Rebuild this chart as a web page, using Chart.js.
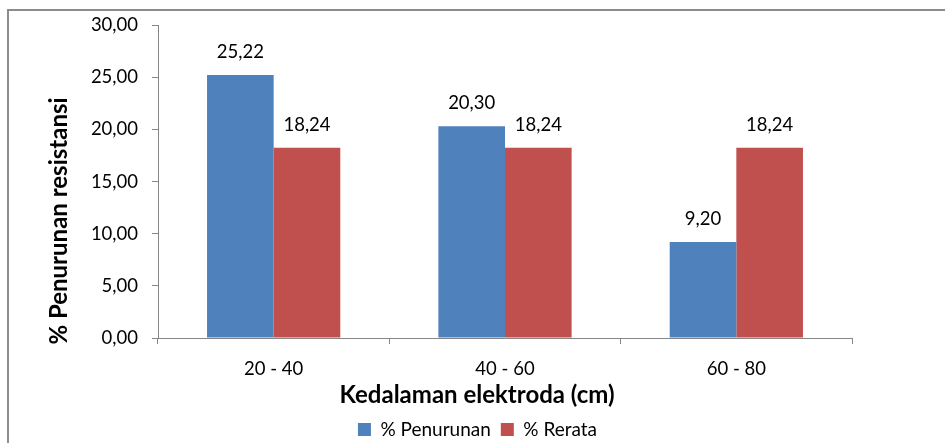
<!DOCTYPE html>
<html>
<head>
<meta charset="utf-8">
<script src="https://cdn.jsdelivr.net/npm/chart.js@4"></script>
<style>
  html, body { margin: 0; padding: 0; background: #fff; }
  #wrap { position: relative; width: 945px; height: 443px; overflow: hidden; }
  #frame { position: absolute; left: 7px; top: 9px; width: 2000px; height: 2000px;
           border-left: 2px solid #8c8c8c; border-top: 2px solid #8c8c8c; }
  canvas { position: absolute; left: 0; top: 0; }
</style>
</head>
<body>
<div id="wrap">
  <div id="frame"></div>
  <canvas id="myChart" width="945" height="443"></canvas>
</div>
<script>
var categories = ['20 - 40', '40 - 60', '60 - 80'];
var penurunan = [25.22, 20.30, 9.20];
var rerata = [18.24, 18.24, 18.24];
var yTicks = [0, 5, 10, 15, 20, 25, 30];

var FONT = 'Lato, "Open Sans", sans-serif';
var AXIS = '#868686';

function koma(v) {
  return v.toFixed(2).replace('.', ',');
}

// labels above bars + the two axis titles
var extras = {
  id: 'extras',
  afterDatasetsDraw: function(chart) {
    var ctx = chart.ctx;
    ctx.save();
    ctx.fillStyle = '#000';
    ctx.font = '18.5px ' + FONT;
    ctx.textAlign = 'center';
    ctx.textBaseline = 'alphabetic';
    chart.data.datasets.forEach(function(ds, i) {
      chart.getDatasetMeta(i).data.forEach(function(bar, j) {
        ctx.fillText(koma(ds.data[j]), bar.x, bar.y - 17);
      });
    });
    ctx.font = 'bold 24px ' + FONT;
    ctx.fillText('Kedalaman elektroda (cm)', 477, 403);
    ctx.translate(67, 221);
    ctx.rotate(-Math.PI / 2);
    ctx.fillText('% Penurunan resistansi', 0, 0);
    ctx.restore();
  }
};

const config = {
  type: 'bar',
  data: {
    labels: categories,
    datasets: [{
      label: '% Penurunan',
      data: penurunan,
      backgroundColor: '#4F81BD',
      borderWidth: 0
    }, {
      label: '% Rerata',
      data: rerata,
      backgroundColor: '#C0504D',
      borderWidth: 0
    }]
  },
  options: {
    responsive: false,
    animation: false,
    layout: { padding: { left: 10, right: 0, top: 22, bottom: -6 } },
    datasets: { bar: { categoryPercentage: 0.576, barPercentage: 1.0 } },
    scales: {
      x: {
        grid: { display: true, drawOnChartArea: false, drawTicks: true, tickLength: 6, color: AXIS, offset: true },
        border: { display: true, color: AXIS, width: 1 },
        ticks: { color: '#000', font: { family: FONT, size: 18.5 }, padding: 14 },
        afterFit: function(s) { s.height = 72; }
      },
      y: {
        min: 0, max: 30,
        afterBuildTicks: function(s) { s.ticks = yTicks.map(function(v) { return { value: v }; }); },
        grid: { display: true, drawOnChartArea: false, drawTicks: true, tickLength: 6, color: AXIS },
        border: { display: true, color: AXIS, width: 1 },
        ticks: { color: '#000', font: { family: FONT, size: 18.5 }, padding: 14,
                 callback: function(v) { return koma(v); } },
        afterFit: function(s) { s.width = 148; }
      },
      yR: {
        position: 'right',
        display: true,
        grid: { display: false },
        border: { display: false },
        ticks: { display: false },
        afterFit: function(s) { s.width = 93; }
      }
    },
    plugins: {
      legend: {
        position: 'bottom',
        labels: { color: '#000', font: { family: FONT, size: 19 }, boxWidth: 13, boxHeight: 13, padding: 10 }
      },
      tooltip: { enabled: false }
    }
  },
  plugins: [extras]
};

var myChart = new Chart(document.getElementById('myChart'), config);
</script>
</body>
</html>
